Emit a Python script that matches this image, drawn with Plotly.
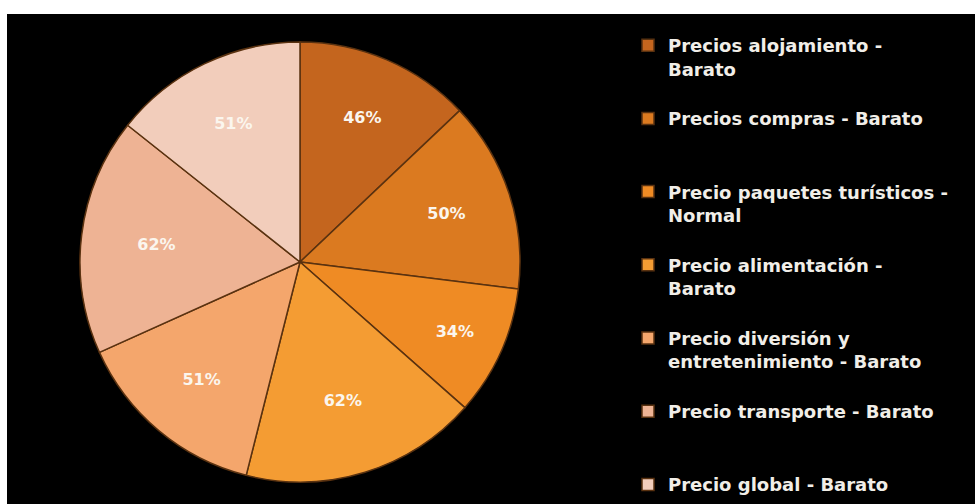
import plotly.graph_objects as go

# Survey answers: share of respondents choosing the most frequent rating per price item
categories = [
    "Precios alojamiento -<br>Barato",
    "Precios compras - Barato",
    "Precio paquetes turísticos -<br>Normal",
    "Precio alimentación -<br>Barato",
    "Precio diversión y<br>entretenimiento - Barato",
    "Precio transporte - Barato",
    "Precio global - Barato",
]
values = [46, 50, 34, 62, 51, 62, 51]
value_labels = [f"{v}%" for v in values]

slice_colors = [
    "#C4651E",
    "#DB7A20",
    "#EF8B24",
    "#F49C33",
    "#F4A66C",
    "#EEB394",
    "#F2CDBB",
]

# Pad legend entries to three text lines so the entries sit at an even pitch
# (the last entry needs no padding below it)
BLANK = "\u00a0"
legend_names = []
for i, name in enumerate(categories):
    n_lines = name.count("<br>") + 1
    pad = 0 if i == len(categories) - 1 else 3 - n_lines
    legend_names.append(name + ("<br>" + BLANK) * pad)

W, H = 975, 504
cx, cy, r = 300, 262, 220

fig = go.Figure(
    go.Pie(
        labels=legend_names,
        values=values,
        text=value_labels,
        textinfo="text",
        textposition="inside",
        insidetextorientation="horizontal",
        textfont=dict(family="DejaVu Sans", size=16, color="#FBF6EE", weight="bold"),
        sort=False,
        direction="clockwise",
        rotation=0,
        marker=dict(colors=slice_colors, line=dict(color="#5A3210", width=1.5)),
        domain=dict(
            x=[(cx - r) / W, (cx + r) / W],
            y=[(H - cy - r) / H, (H - cy + r) / H],
        ),
        hoverinfo="label+text",
    )
)

fig.update_layout(
    width=W,
    height=H,
    margin=dict(l=0, r=0, t=0, b=0),
    paper_bgcolor="#000000",
    showlegend=True,
    legend=dict(
        x=628 / W,
        xanchor="left",
        y=1 - 27 / H,
        yanchor="top",
        valign="top",
        bgcolor="rgba(0,0,0,0)",
        font=dict(family="DejaVu Sans", size=18, color="#F1EEE8", weight="bold"),
    ),
    shapes=[
        # white page edge above and to the left of the dark panel
        dict(type="rect", xref="paper", yref="paper", x0=0, x1=1, y0=1 - 14 / H, y1=1,
             fillcolor="#FFFFFF", line=dict(width=0), layer="above"),
        dict(type="rect", xref="paper", yref="paper", x0=0, x1=7 / W, y0=0, y1=1,
             fillcolor="#FFFFFF", line=dict(width=0), layer="above"),
    ],
)

fig.write_html("out.html")
